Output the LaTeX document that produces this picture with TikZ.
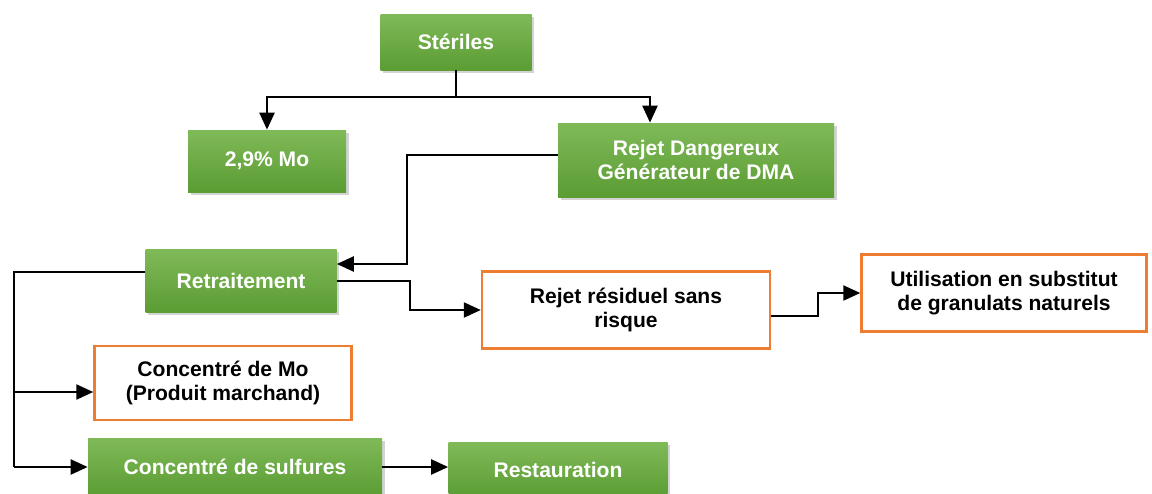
\documentclass[tikz,border=0pt]{standalone}
\usepackage{fontspec}
\setmainfont{Liberation Sans}
\usetikzlibrary{arrows.meta,shadows}

\definecolor{grtop}{HTML}{7FBA58}
\definecolor{grbot}{HTML}{5B9C33}
\definecolor{orbord}{HTML}{ED7D31}

\begin{document}
\begin{tikzpicture}[
        greenbox/.style={top color=grtop, bottom color=grbot, draw=none,
            text=white, font=\bfseries\fontsize{12}{14}\selectfont, align=center,
            drop shadow={shadow xshift=0.05cm, shadow yshift=-0.05cm, opacity=0.35}},
        orangebox/.style={fill=white, draw=orbord, line width=1.4pt,
            font=\bfseries\fontsize{12}{14}\selectfont, align=center},
        flow/.style={line width=1.3pt, -{Triangle[length=0.34cm, width=0.3cm]}}
    ]

        \useasboundingbox (0, 0) rectangle (23.04, 9.86);

        \node [greenbox, minimum width=3.02cm, minimum height=1.12cm] (steriles) at (9.12, 9.02) {Stériles};
        \node [greenbox, minimum width=3.16cm, minimum height=1.24cm] (mo) at (5.34, 6.64) {2,9\% Mo};
        \node [greenbox, minimum width=5.52cm, minimum height=1.48cm] (dang) at (13.92, 6.66) {Rejet Dangereux\\Générateur de DMA};
        \node [greenbox, minimum width=3.82cm, minimum height=1.26cm] (retr) at (4.82, 4.24) {Retraitement};
        \node [orangebox, minimum width=5.76cm, minimum height=1.54cm] (resid) at (12.52, 3.66) {Rejet résiduel sans\\risque};
        \node [orangebox, minimum width=5.70cm, minimum height=1.54cm] (util) at (20.08, 4.0) {Utilisation en substitut\\de granulats naturels};
        \node [orangebox, minimum width=5.14cm, minimum height=1.48cm] (concmo) at (4.46, 2.2) {Concentré de Mo\\(Produit marchand)};
        \node [greenbox, minimum width=5.88cm, minimum height=1.16cm] (sulf) at (4.70, 0.52) {Concentré de sulfures};
        \node [greenbox, minimum width=4.38cm, minimum height=1.1cm] (resto) at (11.16, 0.46) {Restauration};

        % split under Steriles
        \coordinate (split) at (9.12, 7.92);
        \draw [line width=1.3pt] (steriles.south) -- (split);
        \draw [flow] (split) -| (mo.north);
        \draw [flow] (split) -| ([xshift=-0.92cm]dang.north);

        \draw [flow] ([yshift=0.1cm]dang.west) -| (8.14, 4.58) -- ([yshift=0.34cm]retr.east);

        % left branch of Retraitement
        \coordinate (trunk) at (0.28, 4.42);
        \draw [line width=1.3pt] ([yshift=0.18cm]retr.west) -- (trunk) -- (0.28, 0.52);
        \draw [flow] (trunk |- concmo.west) ++(0, -0.18) -- ([yshift=-0.18cm]concmo.west);
        \draw [flow] (trunk |- sulf.west) -- (sulf.west);

        \draw [flow] (retr.east) -| (8.2, 3.66) -- (resid.west);
        \draw [flow] ([yshift=-0.12cm]resid.east) -| (16.36, 4.0) -- (util.west);
        \draw [flow] (sulf.east) -- (sulf.east -| resto.west);

    \end{tikzpicture}
\end{document}
